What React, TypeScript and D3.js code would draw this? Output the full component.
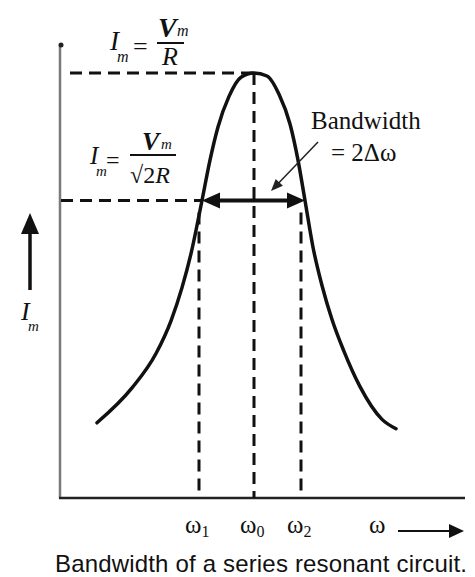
import React from "react";
import * as d3 from "d3";

// Resonance curve (ω in arbitrary units, I relative to Im peak)
const curveW = [37, 72, 96, 111, 122, 131, 142, 150, 158, 169, 181, 194, 207, 219, 230, 238, 245, 253, 262, 272, 284, 300, 322, 336];
const curveI = [0.177, 0.259, 0.34, 0.417, 0.495, 0.575, 0.7, 0.795, 0.873, 0.945, 0.99, 1.0, 0.993, 0.95, 0.88, 0.795, 0.7, 0.59, 0.5, 0.42, 0.345, 0.262, 0.185, 0.163];

// Marked frequencies and levels
const omegaNames = ["1", "0", "2"];
const omegaValues = [139, 194, 241];
const halfPowerLevel = 0.7;
const peakLevel = 1.0;
const bandEdges = [142, 245];

const W = 475;
const H = 577;

export default function App() {
  const x = d3.scaleLinear().domain([0, 400]).range([60, 460]);
  const y = d3.scaleLinear().domain([0, 1]).range([498, 73]);

  const pts: [number, number][] = curveW.map((w, i) => [x(w), y(curveI[i])]);
  const line = d3.line().curve(d3.curveMonotoneX)(pts) || "";

  const serif = "'Liberation Serif', 'Times New Roman', serif";
  const sans = "'Liberation Sans', Arial, sans-serif";
  const dash = "12,7";

  const yHalf = y(halfPowerLevel);
  const yPeak = y(peakLevel);
  const x0 = x(omegaValues[1]);
  const xL = x(bandEdges[0]);
  const xR = x(bandEdges[1]);

  // bandwidth pointer arrow
  const a1 = [318, 142];
  const a2 = [271, 191];
  const ang = Math.atan2(a2[1] - a1[1], a2[0] - a1[0]);
  const hl = 12, hw = 5;
  const headPts = [
    [a2[0], a2[1]],
    [a2[0] - hl * Math.cos(ang) + hw * Math.sin(ang), a2[1] - hl * Math.sin(ang) - hw * Math.cos(ang)],
    [a2[0] - hl * Math.cos(ang) - hw * Math.sin(ang), a2[1] - hl * Math.sin(ang) + hw * Math.cos(ang)],
  ];

  return (
    <svg width={W} height={H} style={{ position: "absolute", left: 0, top: 0, background: "#fff" }}>
      <rect x={0} y={0} width={W} height={H} fill="#fff" />
      {/* axes */}
      <line x1={60} y1={45} x2={60} y2={498} stroke="#7a7a7a" strokeWidth={2.5} />
      <circle cx={61} cy={45} r={2.5} fill="#222" />
      <line x1={59} y1={498} x2={465} y2={498} stroke="#222" strokeWidth={2.5} />

      {/* dashed guides */}
      <line x1={x(10)} y1={yPeak} x2={x0} y2={yPeak} stroke="#111" strokeWidth={3} strokeDasharray={dash} />
      <line x1={x(1)} y1={yHalf} x2={xL} y2={yHalf} stroke="#111" strokeWidth={3} strokeDasharray={dash} />
      <line x1={x0} y1={yPeak} x2={x0} y2={y(0)} stroke="#111" strokeWidth={3} strokeDasharray={dash} />
      {[omegaValues[0], omegaValues[2]].map((w, i) => (
        <line key={i} x1={x(w)} y1={yHalf + 12} x2={x(w)} y2={y(0.014)} stroke="#111" strokeWidth={3} strokeDasharray={dash} />
      ))}

      {/* curve */}
      <path d={line} fill="none" stroke="#111" strokeWidth={3.5} strokeLinecap="round" />

      {/* double arrow */}
      <line x1={xL + 12} y1={yHalf} x2={xR - 12} y2={yHalf} stroke="#111" strokeWidth={4} />
      <polygon points={`${xL},${yHalf} ${xL + 18},${yHalf - 8} ${xL + 18},${yHalf + 8}`} fill="#111" />
      <polygon points={`${xR},${yHalf} ${xR - 18},${yHalf - 8} ${xR - 18},${yHalf + 8}`} fill="#111" />

      {/* bandwidth pointer */}
      <line x1={a1[0]} y1={a1[1]} x2={a2[0] - 8 * Math.cos(ang)} y2={a2[1] - 8 * Math.sin(ang)} stroke="#222" strokeWidth={1.5} />
      <polygon points={headPts.map((p) => p.join(",")).join(" ")} fill="#222" />
      <text x={311} y={129} fontFamily={serif} fontSize={25} fill="#111">Bandwidth</text>
      <text x={331} y={161} fontFamily={serif} fontSize={25} fill="#111">= 2Δω</text>

      {/* formula 1 */}
      <text x={110} y={50} fontFamily={serif} fontSize={27} fontStyle="italic" fill="#111">I</text>
      <text x={117} y={62} fontFamily={serif} fontSize={16} fontStyle="italic" fill="#111">m</text>
      <text x={133} y={55} fontFamily={serif} fontSize={26} fill="#111">=</text>
      <text x={158} y={37} fontFamily={serif} fontSize={28} fontWeight="bold" fontStyle="italic" fill="#111">V</text>
      <text x={177} y={36} fontFamily={serif} fontSize={16} fontStyle="italic" fill="#111">m</text>
      <line x1={157} y1={43} x2={184} y2={43} stroke="#111" strokeWidth={2} />
      <text x={162} y={65} fontFamily={serif} fontSize={26} fontStyle="italic" fill="#111">R</text>

      {/* formula 2 */}
      <text x={90} y={164} fontFamily={serif} fontSize={25} fontStyle="italic" fill="#111">I</text>
      <text x={96} y={176} fontFamily={serif} fontSize={15} fontStyle="italic" fill="#111">m</text>
      <text x={106} y={168} fontFamily={serif} fontSize={24} fill="#111">=</text>
      <text x={142} y={150} fontFamily={serif} fontSize={26} fontWeight="bold" fontStyle="italic" fill="#111">V</text>
      <text x={161} y={149} fontFamily={serif} fontSize={15} fontStyle="italic" fill="#111">m</text>
      <line x1={130} y1={155} x2={176} y2={155} stroke="#111" strokeWidth={2} />
      <text x={130} y={183} fontFamily={serif} fontSize={24} fill="#111">
        √2<tspan fontStyle="italic">R</tspan>
      </text>

      {/* vertical I_m arrow */}
      <line x1={30} y1={290} x2={30} y2={228} stroke="#111" strokeWidth={3.5} />
      <polygon points="30,213 21,234 39,234" fill="#111" />
      <text x={21} y={320} fontFamily={serif} fontSize={26} fontStyle="italic" fill="#111">I</text>
      <text x={28} y={331} fontFamily={serif} fontSize={15} fontStyle="italic" fill="#111">m</text>

      {/* omega tick labels */}
      {omegaValues.map((w, i) => (
        <text key={i} x={x(w) - 14} y={533} fontFamily={serif} fontSize={25} fill="#111">
          ω<tspan fontSize={16} dy={4}>{omegaNames[i]}</tspan>
        </text>
      ))}
      <text x={369} y={533} fontFamily={serif} fontSize={25} fill="#111">ω</text>
      <line x1={398} y1={531} x2={452} y2={531} stroke="#111" strokeWidth={2} />
      <polygon points="464,531 449,524 449,538" fill="#111" />

      {/* caption */}
      <text x={55} y={572} fontFamily={sans} fontSize={24} fill="#111" textLength={412} lengthAdjust="spacing">
        Bandwidth of a series resonant circuit.
      </text>
    </svg>
  );
}
